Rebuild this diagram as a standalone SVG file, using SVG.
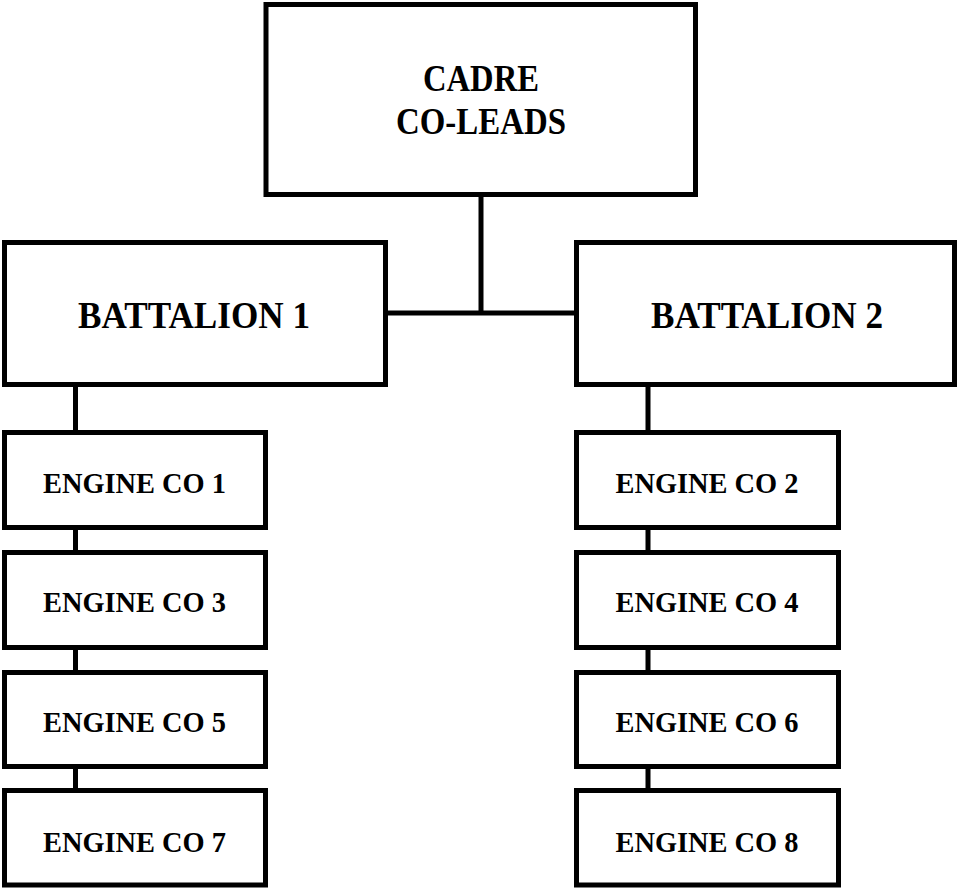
<svg xmlns="http://www.w3.org/2000/svg" width="959" height="888" viewBox="0 0 959 888">
<style>
.box{fill:#fff;stroke:#000;stroke-width:5}
.con{fill:none;stroke:#000;stroke-width:5}
.t{font-family:"Liberation Serif","Times New Roman",serif;font-weight:bold;fill:#000;text-anchor:middle}
.big{font-size:38px}
.sm{font-size:29px}
</style>
<rect width="959" height="888" fill="#fff"/>
<g id="connectors">
<line class="con" x1="481" y1="195" x2="481" y2="313"/>
<line class="con" x1="386" y1="313" x2="577" y2="313"/>
<line class="con" x1="75.5" y1="385" x2="75.5" y2="791"/>
<line class="con" x1="648" y1="385" x2="648" y2="791"/>
</g>
<g id="cadre">
<rect class="box" x="266" y="4.5" width="429.5" height="190"/>
<text class="t big" x="481" y="91" textLength="116" lengthAdjust="spacingAndGlyphs">CADRE</text>
<text class="t big" x="481" y="134" textLength="170" lengthAdjust="spacingAndGlyphs">CO-LEADS</text>
</g>
<g id="battalion1">
<rect class="box" x="4.5" y="242.5" width="381" height="142"/>
<text class="t big" x="194" y="328" textLength="232" lengthAdjust="spacingAndGlyphs">BATTALION 1</text>
</g>
<g id="battalion2">
<rect class="box" x="576.5" y="242.5" width="378" height="142"/>
<text class="t big" x="767" y="328" textLength="232" lengthAdjust="spacingAndGlyphs">BATTALION 2</text>
</g>
<g id="engine1">
<rect class="box" x="4.5" y="432.5" width="261" height="95"/>
<text class="t sm" x="134.5" y="493" textLength="183" lengthAdjust="spacingAndGlyphs">ENGINE CO 1</text>
</g>
<g id="engine3">
<rect class="box" x="4.5" y="552.5" width="261" height="95"/>
<text class="t sm" x="134.5" y="612" textLength="183" lengthAdjust="spacingAndGlyphs">ENGINE CO 3</text>
</g>
<g id="engine5">
<rect class="box" x="4.5" y="672.5" width="261" height="94"/>
<text class="t sm" x="134.5" y="732" textLength="183" lengthAdjust="spacingAndGlyphs">ENGINE CO 5</text>
</g>
<g id="engine7">
<rect class="box" x="4.5" y="790.5" width="261" height="94.5"/>
<text class="t sm" x="134.5" y="852" textLength="183" lengthAdjust="spacingAndGlyphs">ENGINE CO 7</text>
</g>
<g id="engine2">
<rect class="box" x="576.5" y="432.5" width="262" height="95"/>
<text class="t sm" x="707" y="493" textLength="183" lengthAdjust="spacingAndGlyphs">ENGINE CO 2</text>
</g>
<g id="engine4">
<rect class="box" x="576.5" y="552.5" width="262" height="95"/>
<text class="t sm" x="707" y="612" textLength="183" lengthAdjust="spacingAndGlyphs">ENGINE CO 4</text>
</g>
<g id="engine6">
<rect class="box" x="576.5" y="672.5" width="262" height="94"/>
<text class="t sm" x="707" y="732" textLength="183" lengthAdjust="spacingAndGlyphs">ENGINE CO 6</text>
</g>
<g id="engine8">
<rect class="box" x="576.5" y="790.5" width="262" height="94.5"/>
<text class="t sm" x="707" y="852" textLength="183" lengthAdjust="spacingAndGlyphs">ENGINE CO 8</text>
</g>
</svg>
